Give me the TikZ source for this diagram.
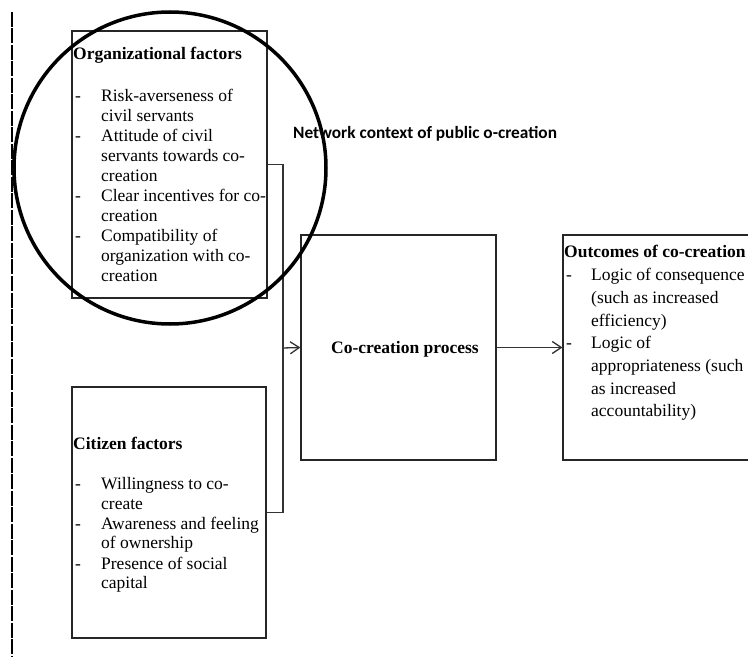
\documentclass[tikz,border=0pt]{standalone}
\usepackage{fontspec}
\setmainfont{Liberation Serif}
\newfontfamily\netfont{Carlito}
\usetikzlibrary{arrows.meta}

\begin{document}
\begin{tikzpicture}[x=1pt, y=-1pt,
    box/.style={draw=black!85, line width=1.2pt, inner sep=0pt},
    boxtext/.style={anchor=base west, inner sep=0pt, font=\fontsize{17.5}{20}\selectfont},
    link/.style={draw=black!80, line width=1.3pt},
    flow/.style={link, -{Straight Barb[length=9pt, width=12pt]}}]
	\useasboundingbox (0,0) rectangle (748,658);
	
	% boundary of the network
	\draw[line width=2pt, dash pattern=on 15pt off 1.5pt] (12,12) -- (12,656);
	
	% boxes
	\node[box, minimum width=195pt, minimum height=267pt] (orgbox) at (169.5,164.5) {};
	\node[box, minimum width=194pt, minimum height=251pt] (citbox) at (169,512.5) {};
	\node[box, minimum width=195pt, minimum height=225pt] (procbox) at (398.5,347.5) {};
	\node[box, minimum width=200pt, minimum height=225pt] (outbox) at (663,347.5) {};
	
	% box texts
	\node[boxtext] (orgtext) at (73,60) {\begin{tabular}[t]{@{\hspace{2pt}}p{26pt}@{}l@{}}
		\multicolumn{2}{@{}l@{}}{\textbf{Organizational factors}}\\
		\multicolumn{2}{@{}l@{}}{}\\[2pt]
		- & Risk-averseness of\\
		  & civil servants\\
		- & Attitude of civil\\
		  & servants towards co-\\
		  & creation\\
		- & Clear incentives for co-\\
		  & creation\\
		- & Compatibility of\\
		  & organization with co-\\
		  & creation
	\end{tabular}};
	\node[boxtext] (cittext) at (73,449) {\begin{tabular}[t]{@{\hspace{2pt}}p{26pt}@{}l@{}}
		\multicolumn{2}{@{}l@{}}{\textbf{Citizen factors}}\\
		\multicolumn{2}{@{}l@{}}{}\\
		- & Willingness to co-\\
		  & create\\
		- & Awareness and feeling\\
		  & of ownership\\
		- & Presence of social\\
		  & capital
	\end{tabular}};
	\node[boxtext, font=\fontsize{17.5}{22.7}\selectfont] (outtext) at (564,258) {\begin{tabular}[t]{@{\hspace{2pt}}p{25pt}@{}l@{}}
		\multicolumn{2}{@{}l@{}}{\textbf{Outcomes of co-creation}}\\
		- & Logic of consequence\\
		  & (such as increased\\
		  & efficiency)\\
		- & Logic of\\
		  & appropriateness (such\\
		  & as increased\\
		  & accountability)
	\end{tabular}};
	\node[boxtext] (proctext) at (331,353) {\textbf{Co-creation process}};
	\node[boxtext, font=\netfont\bfseries\fontsize{17.3}{20}\selectfont] (nettext) at (293,139) {Network context of public o-creation};
	
	% connectors
	\coordinate (join) at (283,348);
	\draw[link] (orgbox.east) -| (join) |- (citbox.east);
	\draw[flow] (join) -- (procbox.west);
	\draw[flow] (procbox.east) -- (outbox.west);
	
	% highlight
	\draw[line width=3.5pt] (170,168) circle (156pt);
\end{tikzpicture}
\end{document}
